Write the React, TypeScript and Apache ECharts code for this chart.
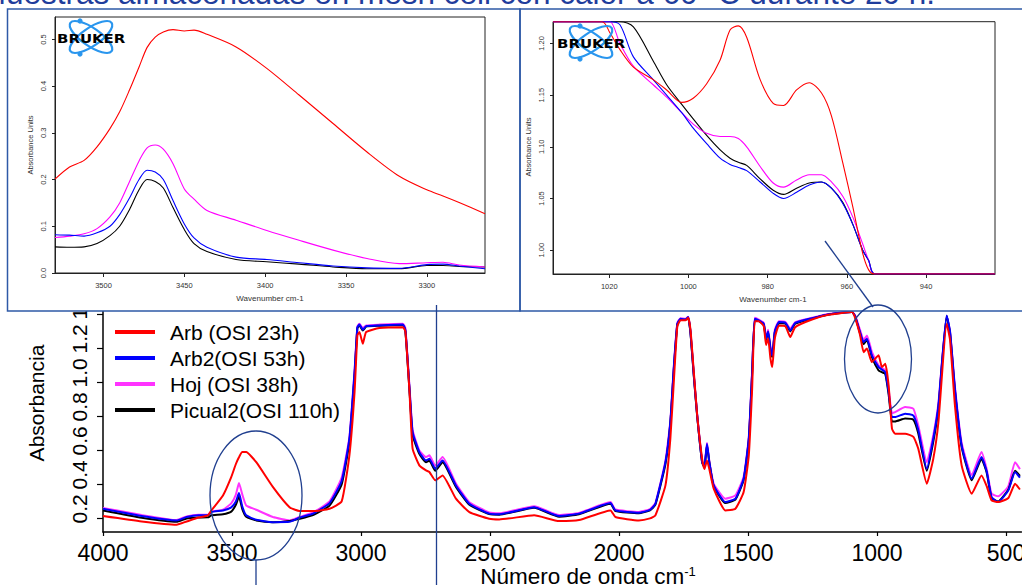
import React, { useEffect, useRef } from "react";
import * as echarts from "echarts";

// ---------- main spectrum data ----------
const seriesNames = ["Arb (OSI 23h)", "Arb2(OSI 53h)", "Hoj (OSI 38h)", "Picual2(OSI 110h)"];
const seriesColors = ["#ff0000", "#0000ff", "#ff33ff", "#000000"];

const mainWavenumbers = [4000, 3850, 3715, 3676, 3630, 3593, 3580, 3535, 3503, 3485, 3473, 3460, 3445, 3406, 3341, 3277, 3238, 3186, 3122, 3075, 3045, 3025, 3014, 3006, 2993, 2980, 2929, 2838, 2828, 2812, 2800, 2774, 2748, 2735, 2712, 2684, 2632, 2580, 2503, 2464, 2329, 2232, 2155, 2033, 2014, 1923, 1880, 1859, 1820, 1801, 1787, 1774, 1762, 1742, 1732, 1723, 1710, 1697, 1678, 1669, 1659, 1650, 1633, 1588, 1549, 1517, 1497, 1484, 1474, 1458, 1439, 1430, 1422, 1413, 1406, 1396, 1380, 1355, 1336, 1317, 1252, 1188, 1097, 1085, 1066, 1052, 1039, 1020, 994, 981, 968, 955, 942, 930, 891, 859, 840, 807, 782, 762, 730, 717, 698, 672, 633, 595, 575, 556, 530, 491, 465, 446];

const arbMain = [0.214, 0.182, 0.163, 0.182, 0.205, 0.218, 0.247, 0.335, 0.443, 0.52, 0.56, 0.59, 0.59, 0.531, 0.384, 0.266, 0.243, 0.243, 0.257, 0.3, 0.571, 0.943, 1.276, 1.296, 1.227, 1.296, 1.32, 1.325, 1.3, 0.943, 0.61, 0.512, 0.482, 0.473, 0.424, 0.453, 0.316, 0.237, 0.198, 0.194, 0.218, 0.184, 0.19, 0.247, 0.208, 0.188, 0.2, 0.218, 0.394, 0.669, 1.02, 1.33, 1.365, 1.365, 1.38, 1.31, 1.06, 0.806, 0.551, 0.49, 0.541, 0.49, 0.375, 0.247, 0.257, 0.355, 0.571, 0.963, 1.36, 1.36, 1.33, 1.22, 1.26, 1.14, 1.09, 1.26, 1.335, 1.33, 1.267, 1.325, 1.37, 1.398, 1.414, 1.38, 1.28, 1.178, 1.2, 1.12, 1.159, 1.09, 1.11, 0.982, 0.728, 0.698, 0.698, 0.68, 0.61, 0.404, 0.55, 0.767, 1.345, 1.25, 0.865, 0.512, 0.345, 0.453, 0.39, 0.306, 0.296, 0.32, 0.404, 0.37];

const arb2Main = [0.257, 0.214, 0.188, 0.208, 0.218, 0.218, 0.237, 0.247, 0.265, 0.3, 0.349, 0.27, 0.218, 0.192, 0.178, 0.18, 0.205, 0.228, 0.29, 0.42, 0.669, 1.06, 1.325, 1.34, 1.31, 1.331, 1.335, 1.34, 1.31, 0.963, 0.708, 0.59, 0.541, 0.551, 0.492, 0.541, 0.394, 0.286, 0.228, 0.224, 0.266, 0.214, 0.228, 0.29, 0.247, 0.233, 0.25, 0.286, 0.531, 0.767, 1.1, 1.345, 1.374, 1.37, 1.384, 1.296, 1.041, 0.806, 0.531, 0.502, 0.639, 0.531, 0.394, 0.296, 0.316, 0.433, 0.669, 1.06, 1.375, 1.365, 1.345, 1.257, 1.3, 1.198, 1.159, 1.3, 1.355, 1.35, 1.306, 1.35, 1.378, 1.4, 1.414, 1.39, 1.296, 1.237, 1.257, 1.159, 1.09, 1.075, 1.06, 0.943, 0.796, 0.796, 0.816, 0.805, 0.72, 0.492, 0.669, 0.865, 1.394, 1.3, 0.963, 0.629, 0.433, 0.561, 0.477, 0.325, 0.296, 0.365, 0.473, 0.44];

const hojMain = [0.262, 0.22, 0.19, 0.212, 0.222, 0.222, 0.24, 0.251, 0.288, 0.34, 0.408, 0.34, 0.276, 0.251, 0.208, 0.188, 0.208, 0.235, 0.3, 0.44, 0.68, 1.07, 1.33, 1.345, 1.32, 1.335, 1.34, 1.345, 1.32, 0.975, 0.72, 0.6, 0.561, 0.571, 0.51, 0.561, 0.405, 0.295, 0.235, 0.23, 0.272, 0.22, 0.232, 0.296, 0.252, 0.238, 0.255, 0.29, 0.54, 0.775, 1.11, 1.35, 1.378, 1.375, 1.386, 1.3, 1.045, 0.81, 0.54, 0.51, 0.645, 0.54, 0.405, 0.316, 0.335, 0.445, 0.68, 1.07, 1.38, 1.37, 1.35, 1.265, 1.31, 1.21, 1.17, 1.31, 1.36, 1.355, 1.315, 1.355, 1.38, 1.402, 1.414, 1.395, 1.31, 1.25, 1.276, 1.18, 1.1, 1.085, 1.07, 0.96, 0.82, 0.825, 0.855, 0.845, 0.747, 0.531, 0.69, 0.88, 1.39, 1.3, 0.975, 0.645, 0.455, 0.59, 0.49, 0.345, 0.33, 0.39, 0.531, 0.49];

const picual2Main = [0.247, 0.204, 0.18, 0.2, 0.205, 0.206, 0.218, 0.224, 0.24, 0.28, 0.329, 0.255, 0.21, 0.188, 0.178, 0.185, 0.198, 0.22, 0.275, 0.4, 0.65, 1.04, 1.32, 1.335, 1.305, 1.328, 1.333, 1.338, 1.3, 0.95, 0.69, 0.58, 0.53, 0.54, 0.48, 0.53, 0.385, 0.28, 0.225, 0.222, 0.262, 0.21, 0.224, 0.286, 0.243, 0.23, 0.247, 0.28, 0.52, 0.76, 1.09, 1.34, 1.37, 1.368, 1.38, 1.29, 1.035, 0.8, 0.53, 0.5, 0.63, 0.53, 0.39, 0.29, 0.31, 0.425, 0.66, 1.05, 1.37, 1.36, 1.34, 1.25, 1.295, 1.19, 1.15, 1.295, 1.35, 1.345, 1.3, 1.345, 1.375, 1.4, 1.414, 1.388, 1.29, 1.225, 1.25, 1.15, 1.07, 1.06, 1.05, 0.93, 0.77, 0.77, 0.787, 0.78, 0.7, 0.48, 0.65, 0.85, 1.39, 1.29, 0.95, 0.62, 0.425, 0.55, 0.47, 0.32, 0.3, 0.37, 0.48, 0.45];

const mainXTicks = [4000, 3500, 3000, 2500, 2000, 1500, 1000, 500];
const mainYTicks = [0.2, 0.4, 0.6, 0.8, 1.0, 1.2, 1.4];

// ---------- left inset (OH region) ----------
const ohWavenumbers = [3530, 3521, 3512, 3504, 3496, 3490, 3484, 3478, 3473, 3468, 3463, 3457, 3450, 3444, 3436, 3418, 3399, 3379, 3358, 3337, 3317, 3300, 3290, 3280, 3264];
const arbOH = [0.201, 0.227, 0.241, 0.27, 0.309, 0.345, 0.391, 0.441, 0.483, 0.505, 0.516, 0.521, 0.518, 0.52, 0.511, 0.484, 0.438, 0.381, 0.32, 0.259, 0.207, 0.178, 0.165, 0.151, 0.127];
const arb2OH = [0.082, 0.081, 0.079, 0.086, 0.1, 0.125, 0.16, 0.2, 0.22, 0.216, 0.2, 0.155, 0.105, 0.075, 0.055, 0.034, 0.029, 0.022, 0.015, 0.011, 0.01, 0.018, 0.019, 0.015, 0.009];
const hojOH = [0.076, 0.079, 0.084, 0.095, 0.12, 0.15, 0.195, 0.24, 0.268, 0.274, 0.265, 0.234, 0.18, 0.158, 0.134, 0.113, 0.091, 0.07, 0.049, 0.031, 0.02, 0.022, 0.023, 0.017, 0.013];
const picual2OH = [0.056, 0.055, 0.056, 0.063, 0.08, 0.1, 0.135, 0.178, 0.2, 0.196, 0.182, 0.14, 0.093, 0.063, 0.046, 0.029, 0.024, 0.019, 0.013, 0.009, 0.009, 0.016, 0.016, 0.014, 0.013];
const ohXTicks = [3500, 3450, 3400, 3350, 3300];
const ohYTicks = [0, 0.1, 0.2, 0.3, 0.4, 0.5];

// ---------- right inset (trans region) ----------
const trWavenumbers = [1034.2, 1021.8, 1019.8, 1017.3, 1013.9, 1008.9, 1005.5, 1001.7, 998.8, 995.4, 992, 989.5, 987.4, 985.3, 981.9, 978.6, 976, 972.7, 969.5, 966.4, 963.9, 961, 958.5, 956, 954.5, 953, 922.6];
const arbTr = [1.221, 1.221, 1.21, 1.194, 1.177, 1.165, 1.155, 1.143, 1.147, 1.161, 1.184, 1.213, 1.217, 1.206, 1.165, 1.142, 1.14, 1.155, 1.162, 1.152, 1.13, 1.084, 1.042, 0.997, 0.981, 0.977, 0.977];
const arb2Tr = [1.221, 1.221, 1.221, 1.218, 1.187, 1.165, 1.15, 1.133, 1.118, 1.103, 1.089, 1.083, 1.08, 1.077, 1.066, 1.055, 1.05, 1.056, 1.063, 1.066, 1.06, 1.045, 1.025, 1.0, 0.99, 0.977, 0.977];
const hojTr = [1.221, 1.221, 1.221, 1.2, 1.178, 1.16, 1.148, 1.133, 1.122, 1.113, 1.11, 1.11, 1.108, 1.1, 1.081, 1.065, 1.061, 1.068, 1.073, 1.073, 1.066, 1.052, 1.032, 1.006, 0.99, 0.977, 0.977];
const picual2Tr = [1.221, 1.221, 1.221, 1.221, 1.216, 1.183, 1.16, 1.141, 1.127, 1.111, 1.097, 1.089, 1.085, 1.082, 1.069, 1.058, 1.054, 1.06, 1.065, 1.066, 1.06, 1.046, 1.025, 1.0, 0.99, 0.977, 0.977];
const trXTicks = [1020, 1000, 980, 960, 940];
const trYTicks = [1.0, 1.05, 1.1, 1.15, 1.2];

const FONT = "'Liberation Sans', Arial, sans-serif";
const ANNOT = "#203f8f";

const pairs = (xs: number[], ys: number[]) => xs.map((x, i) => [x, ys[i]]);
const plain = (v: number) => String(Math.round(v));

function mainOption() {
  const arrays = [arbMain, arb2Main, hojMain, picual2Main];
  const zs = [6, 5, 3, 4];
  return {
    animation: false,
    backgroundColor: "#ffffff",
    grid: { left: 103, top: 290.6, width: 918.5, height: 241.4, containLabel: false, outerBoundsMode: "none" },
    legend: {
      orient: "vertical",
      left: 115,
      top: 321.5,
      padding: 0,
      itemGap: 5,
      itemWidth: 40,
      itemHeight: 4,
      icon: "rect",
      data: seriesNames,
      textStyle: { fontSize: 21, fontFamily: FONT, color: "#000", padding: [0, 0, 0, 10] },
    },
    xAxis: {
      type: "value",
      inverse: true,
      min: 440,
      max: 4000,
      axisLine: { show: true, lineStyle: { color: "#000", width: 1.5 } },
      axisTick: { show: true, customValues: mainXTicks, length: 4, lineStyle: { color: "#000", width: 1.2 } },
      axisLabel: { customValues: mainXTicks, formatter: plain, fontSize: 23, fontFamily: FONT, color: "#000", margin: 9 },
      splitLine: { show: false },
    },
    yAxis: {
      type: "value",
      min: 0.12,
      max: 1.54,
      axisLine: { show: true, lineStyle: { color: "#000", width: 1.5 } },
      axisTick: { show: true, customValues: mainYTicks, length: 6, lineStyle: { color: "#000", width: 1.2 } },
      axisLabel: {
        customValues: mainYTicks,
        formatter: (v: number) => v.toFixed(1),
        rotate: 90,
        align: "left",
        verticalAlign: "bottom",
        padding: [0, 0, 0, -5],
        fontSize: 21,
        fontFamily: FONT,
        color: "#000",
        margin: 13,
      },
      splitLine: { show: false },
    },
    series: seriesNames.map((name, i) => ({
      name,
      type: "line",
      data: pairs(mainWavenumbers, arrays[i]),
      showSymbol: false,
      smooth: 0.15,
      z: zs[i],
      lineStyle: { color: seriesColors[i], width: 2 },
      itemStyle: { color: seriesColors[i] },
    })),
    graphic: [
      {
        type: "text",
        x: 36,
        y: 403,
        rotation: Math.PI / 2,
        style: { text: "Absorbancia", font: `21px ${FONT}`, fill: "#000", align: "center", verticalAlign: "middle" },
      },
      {
        type: "text",
        x: 588,
        y: 576,
        style: {
          text: "{a|Número de onda cm}{b|-1}",
          align: "center",
          verticalAlign: "middle",
          rich: {
            a: { fontSize: 22.5, fontFamily: FONT, fill: "#000", color: "#000" },
            b: { fontSize: 13, fontFamily: FONT, fill: "#000", color: "#000", verticalAlign: "top", lineHeight: 22 },
          },
        },
      },
    ],
  };
}

function logo(cx: number, cy: number) {
  const blue = "#2a96ee";
  return {
    type: "group",
    x: cx,
    y: cy,
    z: 100,
    children: [
      { type: "ellipse", rotation: 0.6, shape: { cx: 0, cy: 0, rx: 25, ry: 9 }, style: { fill: "none", stroke: blue, lineWidth: 2.2 }, z: 100 },
      { type: "ellipse", rotation: -0.6, shape: { cx: 0, cy: 0, rx: 25, ry: 9 }, style: { fill: "none", stroke: blue, lineWidth: 2.2 }, z: 100 },
      { type: "circle", shape: { cx: -11, cy: -16, r: 2.6 }, style: { fill: blue }, z: 100 },
      { type: "circle", shape: { cx: -11, cy: 17, r: 2.6 }, style: { fill: blue }, z: 100 },
      {
        type: "text",
        x: -34,
        y: 1,
        scaleX: 1.15,
        z: 101,
        style: { text: "BRUKER", font: "bold 13px 'DejaVu Sans', sans-serif", fill: "#000", align: "left", verticalAlign: "middle" },
      },
    ],
  };
}

function insetOption(cfg: {
  grid: any;
  xMin: number;
  xMax: number;
  yMin: number;
  yMax: number;
  xTicks: number[];
  yTicks: number[];
  yDigits: number;
  xs: number[];
  arrays: number[][];
  logoPos: [number, number];
  yNamePos: [number, number];
  xNamePos: [number, number];
}) {
  const zs = [6, 4, 3, 2];
  return {
    animation: false,
    backgroundColor: "#ffffff",
    grid: { ...cfg.grid, show: true, borderColor: "#222", borderWidth: 1, backgroundColor: "#fff", containLabel: false, outerBoundsMode: "none" },
    xAxis: {
      type: "value",
      inverse: true,
      min: cfg.xMin,
      max: cfg.xMax,
      axisLine: { show: true, lineStyle: { color: "#222", width: 1 } },
      axisTick: { show: true, customValues: cfg.xTicks, length: 4, lineStyle: { color: "#222" } },
      axisLabel: { customValues: cfg.xTicks, formatter: plain, fontSize: 7.5, fontFamily: FONT, color: "#333", margin: 8 },
      splitLine: { show: false },
    },
    yAxis: {
      type: "value",
      min: cfg.yMin,
      max: cfg.yMax,
      axisLine: { show: true, lineStyle: { color: "#222", width: 1 } },
      axisTick: { show: true, customValues: cfg.yTicks, length: 3, lineStyle: { color: "#222" } },
      axisLabel: {
        customValues: cfg.yTicks,
        formatter: (v: number) => v.toFixed(cfg.yDigits),
        rotate: 90,
        fontSize: 7.5,
        fontFamily: FONT,
        color: "#333",
        margin: 8,
      },
      splitLine: { show: false },
    },
    series: seriesNames.map((name, i) => ({
      name,
      type: "line",
      data: pairs(cfg.xs, cfg.arrays[i]),
      showSymbol: false,
      smooth: 0.3,
      z: zs[i],
      lineStyle: { color: seriesColors[i] === "#ff33ff" ? "#ff00ff" : seriesColors[i], width: 1.1 },
    })),
    graphic: [
      logo(cfg.logoPos[0], cfg.logoPos[1]),
      {
        type: "text",
        x: cfg.yNamePos[0],
        y: cfg.yNamePos[1],
        rotation: Math.PI / 2,
        style: { text: "Absorbance Units", font: `7.5px ${FONT}`, fill: "#333", align: "center", verticalAlign: "middle" },
      },
      {
        type: "text",
        x: cfg.xNamePos[0],
        y: cfg.xNamePos[1],
        style: { text: "Wavenumber cm-1", font: `8px ${FONT}`, fill: "#333", align: "center", verticalAlign: "middle" },
      },
    ],
  };
}

function overlayOption() {
  const border = "#2e59a7";
  return {
    animation: false,
    graphic: [
      {
        type: "text",
        x: 935,
        y: 9,
        style: {
          text: "Muestras almacenadas en mesh cell con calor a 60 ºC durante 20 h.",
          font: `31.5px ${FONT}`,
          fill: "#1f3d9c",
          align: "right",
          verticalAlign: "bottom",
        },
      },
      { type: "rect", shape: { x: 7.5, y: 9, width: 512.5, height: 302 }, style: { fill: "none", stroke: border, lineWidth: 1.5 } },
      { type: "rect", shape: { x: 520, y: 9, width: 510, height: 302 }, style: { fill: "none", stroke: border, lineWidth: 1.5 } },
      { type: "ellipse", shape: { cx: 256, cy: 495.5, rx: 46, ry: 64.5 }, style: { fill: "none", stroke: ANNOT, lineWidth: 1.3 } },
      { type: "line", shape: { x1: 256, y1: 560, x2: 256, y2: 585 }, style: { stroke: ANNOT, lineWidth: 1.3 } },
      { type: "line", shape: { x1: 436.5, y1: 305, x2: 436.5, y2: 585 }, style: { stroke: ANNOT, lineWidth: 1.3 } },
      { type: "ellipse", shape: { cx: 878, cy: 359, rx: 33.5, ry: 54 }, style: { fill: "none", stroke: ANNOT, lineWidth: 1.3 } },
      { type: "line", shape: { x1: 825, y1: 241, x2: 873, y2: 307 }, style: { stroke: ANNOT, lineWidth: 1.3 } },
    ],
  };
}

export default function App() {
  const mainRef = useRef<HTMLDivElement>(null);
  const leftRef = useRef<HTMLDivElement>(null);
  const rightRef = useRef<HTMLDivElement>(null);
  const overRef = useRef<HTMLDivElement>(null);

  useEffect(() => {
    const list: [HTMLDivElement | null, any][] = [
      [mainRef.current, mainOption()],
      [
        leftRef.current,
        insetOption({
          grid: { left: 47, top: 8, width: 430, height: 256 },
          xMin: 3264,
          xMax: 3530,
          yMin: 0,
          yMax: 0.548,
          xTicks: ohXTicks,
          yTicks: ohYTicks,
          yDigits: 1,
          xs: ohWavenumbers,
          arrays: [arbOH, arb2OH, hojOH, picual2OH],
          logoPos: [83, 28],
          yNamePos: [22, 136],
          xNamePos: [262, 289],
        }),
      ],
      [
        rightRef.current,
        insetOption({
          grid: { left: 33, top: 12.7, width: 442, height: 252.3 },
          xMin: 922.6,
          xMax: 1034.2,
          yMin: 0.977,
          yMax: 1.221,
          xTicks: trXTicks,
          yTicks: trYTicks,
          yDigits: 2,
          xs: trWavenumbers,
          arrays: [arbTr, arb2Tr, hojTr, picual2Tr],
          logoPos: [71, 33],
          yNamePos: [8, 138],
          xNamePos: [253, 290],
        }),
      ],
      [overRef.current, overlayOption()],
    ];
    const charts = list.map(([el, opt]) => {
      const c = echarts.init(el as HTMLDivElement, null, { renderer: "svg" });
      c.setOption(opt);
      return c;
    });
    return () => charts.forEach((c) => c.dispose());
  }, []);

  const abs = (l: number, t: number, w: number, h: number, extra: any = {}) => ({
    position: "absolute" as const,
    left: l,
    top: t,
    width: w,
    height: h,
    ...extra,
  });

  return (
    <div style={abs(0, 0, 1022, 585, { overflow: "hidden", background: "#fff" })}>
      <div ref={mainRef} style={abs(0, 0, 1022, 585)} />
      <div ref={leftRef} style={abs(8, 9, 512, 302, { background: "#fff" })} />
      <div ref={rightRef} style={abs(520, 9, 502, 302, { background: "#fff" })} />
      <div ref={overRef} style={abs(0, 0, 1022, 585, { pointerEvents: "none" })} />
    </div>
  );
}
